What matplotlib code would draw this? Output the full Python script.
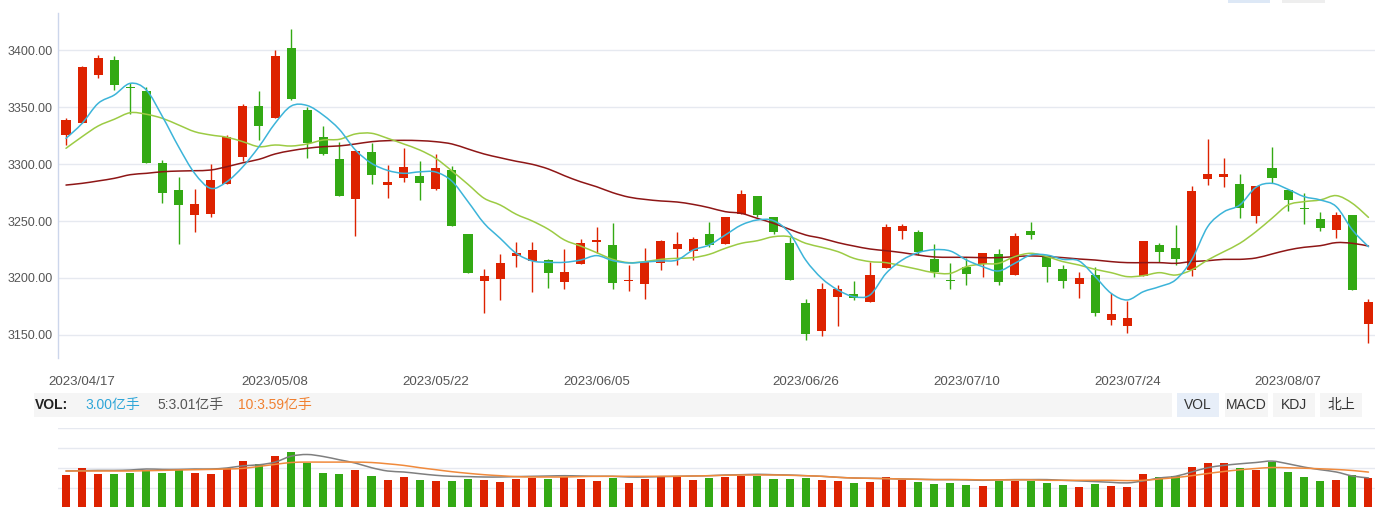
import matplotlib
matplotlib.use("Agg")
import matplotlib.pyplot as plt
import matplotlib.transforms as mtransforms
from matplotlib.patches import Rectangle, PathPatch
from matplotlib.path import Path
import numpy as np

# ---------------- data ----------------
dates = ["2023/04/17", "2023/05/08", "2023/05/22", "2023/06/05",
         "2023/06/26", "2023/07/10", "2023/07/24", "2023/08/07"]
date_idx = [1, 13, 23, 33, 46, 56, 66, 76]

opens = [3325.6, 3336.4, 3378.3, 3391.5, 3367.0, 3364.3, 3300.7, 3277.3, 3255.6, 3256.5,
         3282.8, 3306.6, 3351.1, 3340.8, 3402.0, 3347.6, 3323.8, 3304.5, 3269.3, 3310.6,
         3282.0, 3287.8, 3289.6, 3278.1, 3294.8, 3238.6, 3197.6, 3199.4, 3219.6, 3215.2,
         3215.8, 3196.7, 3212.5, 3231.8, 3228.9, 3197.6, 3194.9, 3213.4, 3225.7, 3223.9,
         3238.6, 3230.1, 3256.1, 3272.0, 3253.5, 3230.7, 3177.9, 3153.6, 3183.5, 3185.9,
         3179.1, 3209.0, 3241.5, 3240.3, 3216.6, 3197.9, 3209.6, 3212.5, 3221.0, 3202.8,
         3241.2, 3219.3, 3207.8, 3194.9, 3202.5, 3163.3, 3158.0, 3202.0, 3228.9, 3226.3,
         3207.2, 3286.9, 3289.0, 3282.5, 3254.4, 3296.6, 3277.2, 3261.4, 3251.8, 3242.4,
         3255.3, 3159.8]
highs = [3340.2, 3386.0, 3395.9, 3395.0, 3371.0, 3367.5, 3303.6, 3288.7, 3278.2, 3300.1,
         3325.6, 3352.8, 3364.3, 3400.3, 3418.7, 3350.0, 3333.5, 3319.2, 3312.5, 3318.8,
         3299.2, 3314.4, 3302.7, 3308.9, 3298.3, 3238.6, 3207.8, 3221.0, 3231.6, 3231.6,
         3216.6, 3225.4, 3234.2, 3244.7, 3248.3, 3211.6, 3226.3, 3233.0, 3240.3, 3235.9,
         3249.1, 3253.5, 3277.2, 3272.0, 3253.5, 3235.9, 3181.5, 3195.5, 3193.8, 3197.3,
         3214.0, 3247.4, 3247.4, 3242.1, 3229.8, 3213.1, 3217.5, 3221.9, 3225.4, 3239.5,
         3249.1, 3220.1, 3211.3, 3205.2, 3209.6, 3186.7, 3180.0, 3232.4, 3230.7, 3246.5,
         3280.8, 3322.1, 3305.4, 3291.3, 3281.0, 3315.0, 3277.2, 3274.6, 3257.9, 3257.9,
         3255.3, 3181.5]
lows = [3316.8, 3336.0, 3376.0, 3365.1, 3344.1, 3301.0, 3266.1, 3230.1, 3240.7, 3253.8,
        3282.8, 3303.0, 3321.2, 3340.8, 3356.4, 3305.7, 3308.0, 3272.0, 3236.8, 3282.5,
        3270.2, 3284.3, 3268.5, 3277.3, 3245.6, 3204.6, 3169.5, 3180.9, 3209.9, 3187.9,
        3191.4, 3190.6, 3212.5, 3221.9, 3190.6, 3188.8, 3181.8, 3207.2, 3211.6, 3216.0,
        3227.4, 3230.0, 3256.0, 3253.5, 3238.6, 3198.2, 3145.7, 3149.2, 3158.0, 3180.9,
        3179.0, 3209.0, 3234.2, 3220.4, 3201.1, 3190.5, 3194.1, 3201.1, 3194.1, 3202.8,
        3234.5, 3196.7, 3191.4, 3182.6, 3166.8, 3158.9, 3151.9, 3202.0, 3214.3, 3211.6,
        3202.0, 3281.6, 3279.9, 3253.0, 3248.5, 3283.4, 3259.1, 3247.7, 3241.5, 3235.4,
        3189.7, 3143.1]
closes = [3338.8, 3385.4, 3393.3, 3369.5, 3366.5, 3301.3, 3274.9, 3264.4, 3265.0, 3286.1,
          3324.1, 3351.1, 3333.5, 3395.0, 3357.2, 3318.6, 3308.9, 3272.3, 3311.5, 3290.4,
          3284.3, 3297.5, 3283.4, 3296.6, 3245.6, 3204.6, 3201.7, 3213.1, 3221.9, 3224.6,
          3204.6, 3205.2, 3230.7, 3233.3, 3195.8, 3198.2, 3214.3, 3232.4, 3229.8, 3234.2,
          3228.9, 3253.5, 3273.7, 3255.3, 3240.3, 3198.2, 3151.0, 3190.3, 3190.3, 3182.6,
          3202.5, 3244.7, 3245.6, 3223.0, 3205.5, 3197.0, 3203.7, 3221.9, 3196.7, 3236.8,
          3238.0, 3209.9, 3197.6, 3199.9, 3169.5, 3168.3, 3164.8, 3232.4, 3223.0, 3216.9,
          3276.4, 3291.3, 3291.3, 3261.7, 3280.8, 3288.1, 3268.8, 3260.8, 3244.2, 3255.3,
          3189.7, 3178.8]

ma5 = [3322.6, 3335.8, 3353.4, 3360.7, 3371.0, 3365.1, 3341.7, 3315.3, 3291.9, 3278.7,
       3284.5, 3297.7, 3315.3, 3335.8, 3351.0, 3351.5, 3343.0, 3330.5, 3312.4, 3300.7,
       3294.5, 3291.9, 3293.2, 3293.0, 3285.0, 3267.0, 3248.0, 3234.8, 3221.6, 3214.9,
       3213.7, 3213.7, 3215.7, 3219.6, 3215.2, 3213.1, 3214.0, 3214.9, 3215.7, 3224.5,
       3228.9, 3237.7, 3246.5, 3250.9, 3250.3, 3239.2, 3215.7, 3199.6, 3189.4, 3183.5,
       3185.0, 3204.0, 3215.7, 3222.2, 3224.8, 3223.6, 3215.7, 3209.9, 3206.1, 3212.8,
       3220.1, 3220.1, 3216.3, 3214.9, 3201.1, 3186.4, 3180.6, 3187.9, 3192.3, 3198.2,
       3215.7, 3245.0, 3258.0, 3264.1, 3279.6, 3283.1, 3277.8, 3271.4, 3268.5, 3262.6,
       3242.1, 3227.4]
ma10 = [3313.9, 3324.1, 3333.5, 3339.4, 3345.2, 3343.8, 3340.2, 3334.4, 3328.5, 3325.6,
        3323.6, 3319.7, 3315.3, 3316.8, 3315.9, 3317.7, 3321.2, 3321.8, 3326.5, 3327.1,
        3322.7, 3317.7, 3312.4, 3305.0, 3294.0, 3282.2, 3270.0, 3264.1, 3255.9, 3250.0,
        3242.7, 3233.3, 3228.0, 3222.2, 3216.3, 3213.4, 3214.3, 3216.3, 3217.2, 3217.8,
        3220.7, 3226.0, 3230.4, 3232.7, 3236.2, 3236.2, 3230.4, 3226.9, 3223.1, 3217.2,
        3214.3, 3213.4, 3210.5, 3207.5, 3204.5, 3204.0, 3209.9, 3212.2, 3212.8, 3218.7,
        3221.6, 3218.7, 3214.3, 3211.3, 3207.5, 3204.6, 3201.1, 3202.0, 3204.6, 3202.5,
        3207.0, 3215.7, 3223.0, 3230.4, 3240.6, 3252.4, 3264.1, 3267.0, 3268.5, 3272.3,
        3265.5, 3253.2]
ma30 = [3281.6, 3283.1, 3285.2, 3287.5, 3290.7, 3291.9, 3293.3, 3293.9, 3294.2, 3294.8,
        3297.7, 3301.2, 3304.2, 3308.9, 3311.8, 3313.9, 3315.3, 3316.0, 3317.7, 3319.7,
        3320.6, 3320.9, 3320.6, 3319.7, 3317.7, 3313.3, 3308.9, 3305.6, 3302.5, 3299.8,
        3295.7, 3289.8, 3284.5, 3280.1, 3274.9, 3271.0, 3269.0, 3267.6, 3266.7, 3264.6,
        3261.7, 3258.2, 3256.7, 3252.3, 3248.0, 3242.7, 3237.7, 3234.8, 3231.0, 3228.0,
        3225.4, 3223.9, 3222.2, 3220.1, 3218.4, 3218.1, 3218.1, 3217.8, 3217.8, 3218.7,
        3219.3, 3218.7, 3217.8, 3216.6, 3215.7, 3214.3, 3213.4, 3213.4, 3213.4, 3212.8,
        3214.3, 3215.1, 3216.3, 3216.3, 3217.5, 3221.0, 3224.5, 3226.9, 3228.3, 3231.0,
        3230.4, 3228.0]

volume = [3.27, 3.96, 3.37, 3.37, 3.47, 3.83, 3.47, 3.76, 3.47, 3.37,
          3.96, 4.75, 4.36, 5.25, 5.64, 4.46, 3.47, 3.37, 3.76, 3.17,
          2.77, 3.07, 2.77, 2.67, 2.67, 2.87, 2.77, 2.57, 2.87, 2.97,
          2.87, 3.07, 2.87, 2.67, 2.97, 2.48, 2.87, 3.07, 3.07, 2.79,
          2.97, 3.07, 3.17, 3.17, 2.87, 2.87, 2.97, 2.77, 2.67, 2.48,
          2.57, 3.07, 2.77, 2.57, 2.38, 2.48, 2.28, 2.18, 2.67, 2.67,
          2.67, 2.48, 2.28, 2.08, 2.38, 2.18, 2.08, 3.37, 3.07, 3.17,
          4.06, 4.46, 4.46, 3.96, 3.76, 4.65, 3.56, 3.07, 2.67, 2.77,
          3.27, 3.00]
vol_ma5 = [3.70, 3.73, 3.76, 3.76, 3.80, 3.90, 3.86, 3.86, 3.90, 3.90,
           4.00, 4.22, 4.32, 4.59, 5.18, 5.35, 5.15, 4.82, 4.49, 4.03,
           3.70, 3.60, 3.43, 3.27, 3.17, 3.14, 3.10, 3.10, 3.14, 3.17,
           3.20, 3.23, 3.20, 3.17, 3.17, 3.10, 3.10, 3.14, 3.17, 3.20,
           3.23, 3.30, 3.33, 3.37, 3.33, 3.30, 3.23, 3.17, 3.07, 3.00,
           2.97, 2.94, 2.90, 2.87, 2.84, 2.84, 2.81, 2.77, 2.81, 2.84,
           2.84, 2.84, 2.77, 2.71, 2.64, 2.57, 2.51, 2.71, 3.00, 3.17,
           3.60, 4.03, 4.26, 4.42, 4.55, 4.69, 4.42, 4.09, 3.83, 3.60,
           3.20, 3.01]
vol_ma10 = [3.70, 3.70, 3.70, 3.70, 3.70, 3.73, 3.76, 3.80, 3.83, 3.86,
            3.90, 3.96, 4.16, 4.36, 4.55, 4.59, 4.59, 4.59, 4.59, 4.55,
            4.42, 4.26, 4.03, 3.83, 3.63, 3.47, 3.33, 3.23, 3.14, 3.10,
            3.10, 3.10, 3.14, 3.17, 3.17, 3.17, 3.17, 3.17, 3.17, 3.20,
            3.23, 3.27, 3.30, 3.30, 3.30, 3.27, 3.23, 3.17, 3.07, 3.00,
            2.97, 2.94, 2.90, 2.87, 2.84, 2.84, 2.84, 2.81, 2.81, 2.81,
            2.81, 2.77, 2.77, 2.77, 2.77, 2.77, 2.74, 2.77, 2.90, 3.04,
            3.23, 3.45, 3.65, 3.82, 3.95, 4.05, 4.02, 3.98, 3.92, 3.85,
            3.75, 3.59]

yticks = [3150, 3200, 3250, 3300, 3350, 3400]

# ---------------- style ----------------
RED = "#dd2200"
GREEN = "#33a914"
C_MA5 = "#3cb4d9"
C_MA10 = "#9ccb44"
C_MA30 = "#8e1616"
C_VMA5 = "#7f7f7f"
C_VMA10 = "#f08a3c"
GRID = "#e6e9f0"
TXT = "#555555"
FONT = ["Liberation Sans", "Noto Sans CJK SC", "DejaVu Sans"]
plt.rcParams["font.family"] = FONT

W, H = 1388, 507
fig = plt.figure(figsize=(W / 100, H / 100), dpi=100)

x0_px, dx_px = 66.0, 16.08
left_px, right_px = 58.5, 1375.0
xlim = ((left_px - x0_px) / dx_px, (right_px - x0_px) / dx_px)


def fx(px):
    return px / W


def fy(py):
    return 1 - py / H


def smooth_line(axis, xs, ys, color, lw, z):
    """Draw the series through its points as a smooth cubic Bezier path."""
    xs = np.asarray(xs, float)
    ys = np.asarray(ys, float)
    m = len(xs)
    verts = [(xs[0], ys[0])]
    codes = [Path.MOVETO]
    for k in range(m - 1):
        p0 = (xs[max(k - 1, 0)], ys[max(k - 1, 0)])
        p1 = (xs[k], ys[k])
        p2 = (xs[k + 1], ys[k + 1])
        p3 = (xs[min(k + 2, m - 1)], ys[min(k + 2, m - 1)])
        c1 = (p1[0] + (p2[0] - p0[0]) / 6, p1[1] + (p2[1] - p0[1]) / 6)
        c2 = (p2[0] - (p3[0] - p1[0]) / 6, p2[1] - (p3[1] - p1[1]) / 6)
        verts += [c1, c2, p2]
        codes += [Path.CURVE4] * 3
    axis.add_patch(PathPatch(Path(verts, codes), facecolor="none", edgecolor=color,
                             lw=lw, zorder=z, capstyle="round", joinstyle="round"))


# main axes: pixel rows 13 .. 358
ax = fig.add_axes([fx(left_px), fy(358), fx(right_px - left_px), (358 - 13) / H])
n = len(closes)
x = np.arange(n)
o = np.array(opens); c = np.array(closes); h = np.array(highs); l = np.array(lows)
up = c >= o
cols = [RED if u else GREEN for u in up]

ax.vlines(x, l, h, colors=cols, linewidth=1.0, zorder=3)
body_bottom = np.minimum(o, c)
body_h = np.maximum(np.abs(c - o), 0.9)
ax.bar(x, body_h, bottom=body_bottom, width=0.56, color=cols, linewidth=0, zorder=4)

smooth_line(ax, x, ma30, C_MA30, 1.1, 5)
smooth_line(ax, x, ma10, C_MA10, 1.1, 5)
smooth_line(ax, x, ma5, C_MA5, 1.1, 5)

ax.set_xlim(*xlim)
ax.set_ylim(3129.6, 3432.8)
ax.set_yticks(yticks)
ax.set_yticklabels([f"{v:.2f}" for v in yticks])
ax.tick_params(axis="y", length=0, pad=4, labelsize=9, labelcolor=TXT)
ax.set_xticks([])
ax.grid(axis="y", color=GRID, lw=1.0, zorder=0)
for s in ["top", "right", "bottom"]:
    ax.spines[s].set_visible(False)
ax.spines["left"].set_color("#ccd6eb")
ax.spines["left"].set_linewidth(1.0)

# date labels
tr = mtransforms.blended_transform_factory(ax.transData, fig.transFigure)
for d, i in zip(dates, date_idx):
    fig.text(i, fy(382), d, transform=tr, ha="center", va="center",
             fontsize=9.6, color=TXT)

# ---------------- VOL header bar ----------------
fig.patches.append(Rectangle((fx(34), fy(417)), fx(1172 - 34), (417 - 392.5) / H,
                             transform=fig.transFigure, facecolor="#f5f5f5",
                             edgecolor="none", zorder=0))
fig.text(fx(35), fy(405), "VOL:", fontsize=10, fontweight="bold", color="#222222",
         va="center", ha="left")
fig.text(fx(85), fy(405), f"{volume[-1]:.2f}亿手", fontsize=10, color="#2fa6d8",
         va="center", ha="left")
fig.text(fx(157), fy(405), f"5:{vol_ma5[-1]:.2f}亿手", fontsize=10, color="#555555",
         va="center", ha="left")
fig.text(fx(238), fy(405), f"10:{vol_ma10[-1]:.2f}亿手", fontsize=10, color="#f08030",
         va="center", ha="left")

buttons = [("VOL", 1177, 1219, "#e7eef8"), ("MACD", 1225, 1268, "#f5f5f5"),
           ("KDJ", 1273, 1315, "#f5f5f5"), ("北上", 1320, 1362, "#f5f5f5")]
for label, a, b, bg in buttons:
    fig.patches.append(Rectangle((fx(a), fy(417)), fx(b - a), (417 - 392.5) / H,
                                 transform=fig.transFigure, facecolor=bg,
                                 edgecolor="none", zorder=0))
    fig.text(fx((a + b) / 2), fy(405), label, fontsize=10, color="#333333",
             va="center", ha="center")

# small tabs at the very top right
for a, b, bg in [(1228, 1270, "#dde8f6"), (1282, 1325, "#eeeeee")]:
    fig.patches.append(Rectangle((fx(a), fy(3)), fx(b - a), 3 / H,
                                 transform=fig.transFigure, facecolor=bg,
                                 edgecolor="none", zorder=0))

# ---------------- volume axes: pixel rows 428 .. 508 ----------------
axv = fig.add_axes([fx(left_px), fy(508), fx(right_px - left_px), 80 / H])
axv.bar(x, volume, width=0.5, color=cols, linewidth=0, zorder=3)
smooth_line(axv, x, vol_ma5, C_VMA5, 1.1, 4)
smooth_line(axv, x, vol_ma10, C_VMA10, 1.1, 4)
axv.set_xlim(*xlim)
axv.set_ylim(0, 8)
axv.set_yticks([2, 4, 6, 8])
axv.set_yticklabels([])
axv.tick_params(length=0)
axv.set_xticks([])
axv.grid(axis="y", color=GRID, lw=1.0, zorder=0)
for s in axv.spines.values():
    s.set_visible(False)

fig.savefig("out.png", dpi=100)
